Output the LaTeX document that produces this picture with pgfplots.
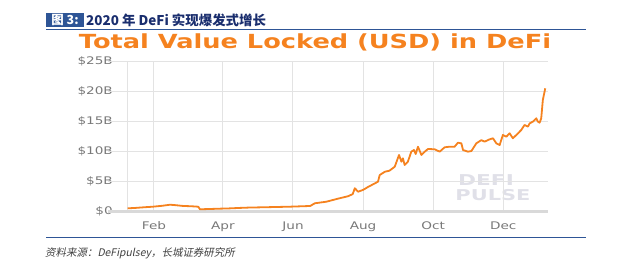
\documentclass[border=0pt]{standalone}
\usepackage{pgfplots}
\pgfplotsset{compat=1.18}
\usepackage{fontspec}
\setmainfont{DejaVu Sans}
\newfontfamily\cjk{Noto Sans CJK SC}
\newfontfamily\cjkit[FakeSlant=0.2]{Noto Sans CJK SC}
\newfontfamily\dejavu{DejaVu Sans}
\definecolor{tvl}{HTML}{F5821F}
\definecolor{hdr}{HTML}{2E5596}
\definecolor{hdrtxt}{HTML}{1A2E6E}
\definecolor{ticktxt}{HTML}{787878}
\definecolor{gridc}{HTML}{E3E3E3}
\definecolor{zeroc}{HTML}{D9D9D9}
\definecolor{wm}{HTML}{E0E0E8}
\newcommand\sx[1]{\scalebox{1.3}[1]{#1}}
\begin{document}
\begin{tikzpicture}
\path[use as bounding box] (0bp,0bp) rectangle (622bp,268bp);
% header
\fill[hdr] (46bp,240.7bp) rectangle (84bp,255.3bp);
\node[text=white, inner sep=0, font=\cjk\bfseries\fontsize{12.5}{12.5}\selectfont] at (65bp,248bp) {图 3:};
\node[anchor=west, text=hdrtxt, inner sep=0, font=\cjk\bfseries\fontsize{13.5}{13.5}\selectfont] at (86bp,248bp) {2020 年 DeFi 实现爆发式增长};
\draw[hdr, line width=1.2bp] (46bp,238.7bp) -- (586bp,238.7bp);
\draw[hdr, line width=1.2bp] (46bp,30.5bp) -- (586bp,30.5bp);
\node[anchor=west, inner sep=0, text=black!75, font=\cjkit\fontsize{10.5}{10.5}\selectfont] at (45bp,15bp) {资料来源：DeFipulsey，长城证券研究所};
% title
\node[anchor=base, inner sep=0, text=tvl, font=\dejavu\bfseries\fontsize{19.5}{19.5}\selectfont] at (315bp,219.5bp) {\scalebox{1.32}[1]{Total Value Locked (USD) in DeFi}};
% watermark
\node[anchor=base, text=wm, inner sep=0, font=\dejavu\bfseries\fontsize{15}{15}\selectfont] at (486bp,82.5bp) {\scalebox{1.45}[1]{DEFI}};
\node[anchor=base, text=wm, inner sep=0, font=\dejavu\bfseries\fontsize{15}{15}\selectfont] at (493bp,67bp) {\scalebox{1.4}[1]{PULSE}};
\begin{axis}[
  at={(127bp,56.5bp)}, anchor=south west, scale only axis,
  width=421bp, height=150bp,
  xmin=7.5, xmax=374, ymin=0, ymax=25,
  axis line style={draw=none},
  major tick length=0pt,
  xtick={31,91,152,213,274,335},
  xticklabels={\sx{Feb},\sx{Apr},\sx{Jun},\sx{Aug},\sx{Oct},\sx{Dec}},
  ytick={0,5,10,15,20,25},
  yticklabels={\sx{\$0},\sx{\$5B},\sx{\$10B},\sx{\$15B},\sx{\$20B},\sx{\$25B}},
  grid=major,
  major grid style={gridc, line width=1bp},
  tick label style={text=ticktxt, font=\dejavu\fontsize{10.5}{10.5}\selectfont, inner sep=0pt},
  yticklabel style={anchor=east, xshift=-14bp},
  xticklabel style={anchor=north, yshift=-10bp},
  clip=false,
]
\draw[gridc, line width=1bp] (axis cs:7.5,0) -- (axis cs:7.5,25);
\pgfplotsinvokeforeach{5,10,15,20,25}{
  \draw[gridc, line width=1bp] (axis cs:7.5,#1) -- ++(-10bp,0);
}
\draw[zeroc, line width=2bp] (axis cs:7.5,0) ++(-10bp,0) -- (axis cs:374,0);
\addplot[tvl, line width=1.8bp, line join=round, no marks] table {
x y
8 0.53
15 0.6
22 0.7
30 0.8
38 0.95
45 1.13
50 1.05
56.5 0.92
63 0.88
69.5 0.8
71 0.37
80 0.42
88 0.47
97 0.52
106 0.6
113 0.65
130 0.72
149 0.8
167 0.92
171 1.37
181 1.63
191 2.13
200 2.55
204 2.9
205.8 3.87
208.7 3.3
213 3.6
217.4 4.1
221.7 4.53
226 4.97
227.5 6.08
232 6.63
236 6.8
240.6 7.47
244.3 9.42
246.4 8.3
247.7 8.87
249.2 7.75
252 8.3
255 9.97
257.3 10.25
258.8 9.58
260.8 10.8
263.8 9.42
266.7 9.97
269.5 10.42
275.3 10.37
279.7 9.97
284 10.7
288.4 10.8
292.7 10.8
295.6 11.47
298.6 11.36
300 10.25
304.3 9.97
307.3 10.08
311.6 11.36
316 11.9
318.8 11.64
323.2 12.03
326.1 12.2
329 11.36
331.9 11.08
334.7 12.75
337.7 12.47
340.6 13.03
343.4 12.2
346.4 12.75
350.7 13.58
353.6 14.42
356.5 14.14
358 14.69
360.8 14.97
363.8 15.53
365.2 14.97
366.7 14.8
368.1 15.53
369.5 18.58
371.6 20.53
};
\end{axis}
\end{tikzpicture}
\end{document}
